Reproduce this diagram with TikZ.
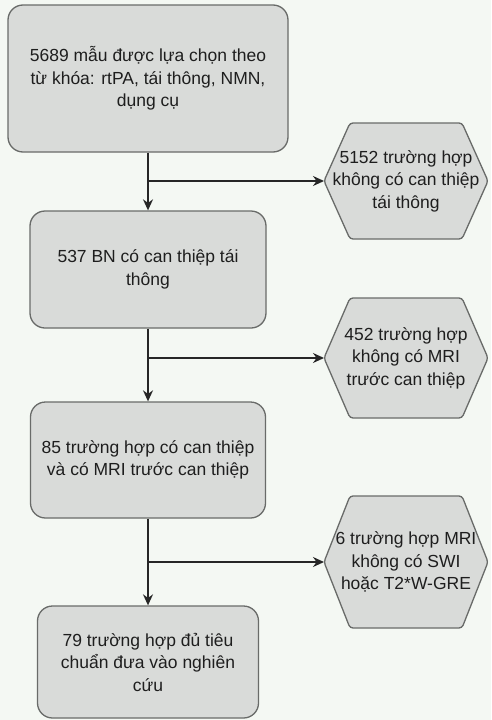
\documentclass[tikz,border=0pt]{standalone}
\usepackage{fontspec}
\setmainfont{Liberation Sans}
\usepackage{tikz}
\usetikzlibrary{arrows.meta}
\definecolor{paperColor}{RGB}{244,248,243}
\definecolor{boxFill}{RGB}{217,219,217}
\definecolor{boxLine}{RGB}{105,107,105}
\definecolor{textColor}{RGB}{30,30,30}
\tikzstyle{flowchart} = [x = 1pt, y = -1pt]
\tikzstyle{boxText} = [align=center, text=textColor, font=\fontsize{17.5}{22.5}\selectfont, inner sep=0pt]
\tikzstyle{stepBox} = [boxText, draw=boxLine, fill=boxFill, line width=1.3pt, rounded corners=15pt]
\tikzstyle{hexLine} = [draw=boxLine, fill=boxFill, line width=1.3pt, rounded corners=3pt]
\tikzstyle{flowLine} = [color=black!85, line width=1.6pt]
\tikzstyle{flowArrow} = [flowLine, -{Stealth[length=11pt, width=10pt]}]
\newcommand{\hexInset}{26}
\newcommand{\stepNode}[6]{\node [stepBox, minimum width=#4pt, minimum height=#5pt] (#1) at (#2, #3) {#6};}
\newcommand{\hexNode}[6]{
  \filldraw [hexLine] (#2 - #4, #3) -- (#2 - #4 + \hexInset, #3 - #5) -- (#2 + #4 - \hexInset, #3 - #5)
    -- (#2 + #4, #3) -- (#2 + #4 - \hexInset, #3 + #5) -- (#2 - #4 + \hexInset, #3 + #5) -- cycle;
  \node [boxText] (#1) at (#2, #3) {#6};
  \coordinate (#1West) at (#2 - #4, #3);
}
\newcommand{\sideArrow}[2]{
  \coordinate (#1Split) at (#1.south |- #2West);
  \draw [flowArrow] (#1Split) -- (#2West);
}

\begin{document}
\begin{tikzpicture}[flowchart]
  \fill [paperColor] (0,0) rectangle (491,720);
  \useasboundingbox (0,0) rectangle (491,720);

  \stepNode{sample}{148}{78.5}{280}{147}{5689 mẫu được lựa chọn theo\\từ khóa: rtPA, tái thông, NMN,\\dụng cụ}
  \stepNode{revasc}{148}{269.5}{236}{117}{537 BN có can thiệp tái\\thông}
  \stepNode{mriCases}{148}{460}{235}{116}{85 trường hợp có can thiệp\\và có MRI trước can thiệp}
  \stepNode{included}{148}{662}{221}{112}{79 trường hợp đủ tiêu\\chuẩn đưa vào nghiên\\cứu}

  \hexNode{noRevasc}{406}{181}{82}{58}{5152 trường hợp\\không có can thiệp\\tái thông}
  \hexNode{noMri}{406}{358}{82}{60}{452 trường hợp\\không có MRI\\trước can thiệp}
  \hexNode{noSwi}{406}{562}{82}{66}{6 trường hợp MRI\\không có SWI\\hoặc T2*W-GRE}

  \draw [flowArrow] (sample) -- (revasc);
  \draw [flowArrow] (revasc) -- (mriCases);
  \draw [flowArrow] (mriCases) -- (included);

  \sideArrow{sample}{noRevasc}
  \sideArrow{revasc}{noMri}
  \sideArrow{mriCases}{noSwi}
\end{tikzpicture}
\end{document}
